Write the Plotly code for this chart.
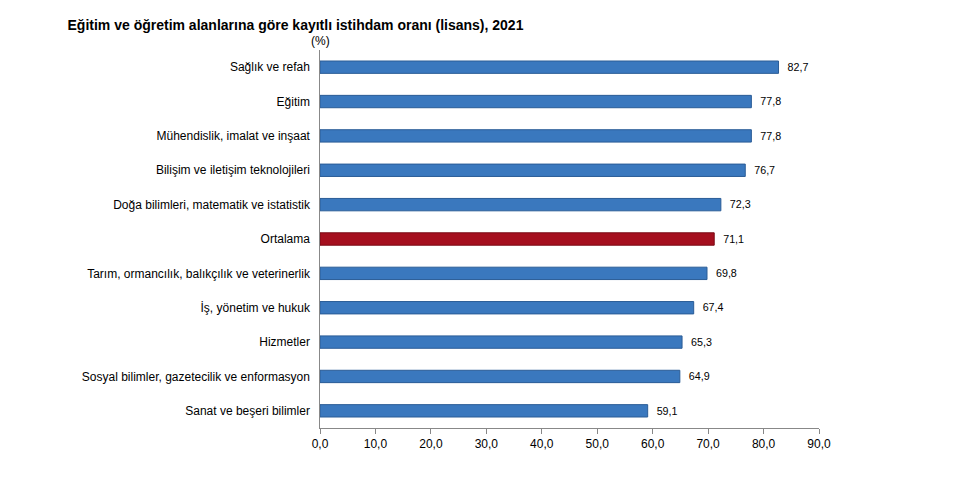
import plotly.graph_objects as go

categories = ["Sağlık ve refah", "Eğitim", "Mühendislik, imalat ve inşaat",
              "Bilişim ve iletişim teknolojileri", "Doğa bilimleri, matematik ve istatistik",
              "Ortalama", "Tarım, ormancılık, balıkçılık ve veterinerlik",
              "İş, yönetim ve hukuk", "Hizmetler",
              "Sosyal bilimler, gazetecilik ve enformasyon", "Sanat ve beşeri bilimler"]
values = [82.7, 77.8, 77.8, 76.7, 72.3, 71.1, 69.8, 67.4, 65.3, 64.9, 59.1]
tick_vals = [0, 10, 20, 30, 40, 50, 60, 70, 80, 90]
tick_text = ["0,0", "10,0", "20,0", "30,0", "40,0", "50,0", "60,0", "70,0", "80,0", "90,0"]

colors = ["#a50f1e" if c == "Ortalama" else "#3a78be" for c in categories]
lines = ["#7a0a15" if c == "Ortalama" else "#2a5c96" for c in categories]
labels = ["  " + f"{v:.1f}".replace(".", ",") for v in values]

fig = go.Figure(go.Bar(
    y=categories, x=values, orientation="h",
    marker=dict(color=colors, line=dict(color=lines, width=1)),
    width=0.36, text=labels, textposition="outside",
    textfont=dict(size=13, color="#000", family="Arial"), cliponaxis=False))

fig.update_layout(
    width=960, height=478, plot_bgcolor="white", paper_bgcolor="white",
    margin=dict(l=312, r=149, t=42, b=58),
    font=dict(family="Arial", size=12, color="#000"),
    title=dict(text="<b>Eğitim ve öğretim alanlarına göre kayıtlı istihdam oranı (lisans), 2021</b>",
               x=0.062, xanchor="left", y=0.975, font=dict(size=14)),
    showlegend=False,
    xaxis=dict(range=[0, 90], tickvals=tick_vals, ticktext=tick_text,
               showgrid=False, showline=True, linecolor="#888", ticks="outside",
               ticklen=5, tickcolor="#888", zeroline=False),
    yaxis=dict(autorange="reversed", showline=True, linecolor="#888",
               ticks="", ticksuffix="  ", showgrid=False),
    annotations=[dict(text="(%)", x=0, xref="x", y=1.0, yref="paper",
                      xanchor="center", yanchor="bottom", showarrow=False,
                      font=dict(size=12))],
)
fig.write_html("out.html")
